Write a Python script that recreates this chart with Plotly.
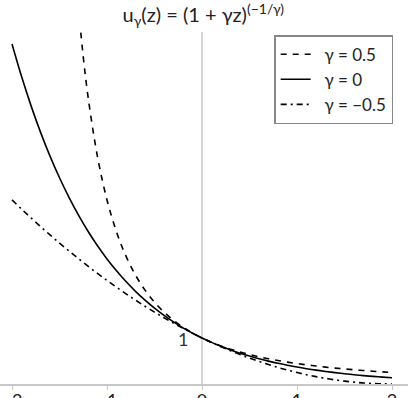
import plotly.graph_objects as go

z_vals = [-2.0, -1.9, -1.8, -1.7, -1.6, -1.5, -1.4, -1.3, -1.2, -1.1, -1.0,
          -0.9, -0.8, -0.7, -0.6, -0.5, -0.4, -0.3, -0.2, -0.1, 0.0,
          0.1, 0.2, 0.3, 0.4, 0.5, 0.6, 0.7, 0.8, 0.9, 1.0,
          1.1, 1.2, 1.3, 1.4, 1.5, 1.6, 1.7, 1.8, 1.9, 2.0]

u_gamma0 = [7.389, 6.686, 6.050, 5.474, 4.953, 4.482, 4.055, 3.669, 3.320, 3.004, 2.718,
            2.460, 2.226, 2.014, 1.822, 1.649, 1.492, 1.350, 1.221, 1.105, 1.000,
            0.905, 0.819, 0.741, 0.670, 0.607, 0.549, 0.497, 0.449, 0.407, 0.368,
            0.333, 0.301, 0.273, 0.247, 0.223, 0.202, 0.183, 0.165, 0.150, 0.135]

u_gamma_neg = [4.000, 3.803, 3.610, 3.423, 3.240, 3.063, 2.890, 2.723, 2.560, 2.403, 2.250,
               2.103, 1.960, 1.823, 1.690, 1.563, 1.440, 1.323, 1.210, 1.103, 1.000,
               0.903, 0.810, 0.723, 0.640, 0.563, 0.490, 0.423, 0.360, 0.303, 0.250,
               0.203, 0.160, 0.123, 0.090, 0.063, 0.040, 0.023, 0.010, 0.003, 0.000]

z_pos = [-1.3, -1.25, -1.2, -1.1, -1.0, -0.9, -0.8, -0.7, -0.6, -0.5, -0.4, -0.3, -0.2, -0.1, 0.0,
         0.1, 0.2, 0.3, 0.4, 0.5, 0.6, 0.7, 0.8, 0.9, 1.0,
         1.1, 1.2, 1.3, 1.4, 1.5, 1.6, 1.7, 1.8, 1.9, 2.0]
u_gamma_pos = [8.163, 7.111, 6.250, 4.938, 4.000, 3.306, 2.778, 2.367, 2.041, 1.778, 1.563, 1.384, 1.235, 1.108, 1.000,
               0.907, 0.826, 0.756, 0.694, 0.640, 0.592, 0.549, 0.510, 0.476, 0.444,
               0.416, 0.391, 0.367, 0.346, 0.327, 0.309, 0.292, 0.277, 0.263, 0.250]

tick_vals = [-2, -1, 0, 1, 2]
tick_text = ["\u22122", "\u22121", "0", "1", "2"]

FONT = "Lato"

fig = go.Figure()
fig.add_trace(go.Scatter(x=z_pos, y=u_gamma_pos, mode="lines", name="  \u03b3 = 0.5",
                         line=dict(color="black", width=1.6, dash="6px,6px", shape="spline")))
fig.add_trace(go.Scatter(x=z_vals, y=u_gamma0, mode="lines", name="  \u03b3 = 0",
                         line=dict(color="black", width=1.6, shape="spline")))
fig.add_trace(go.Scatter(x=z_vals, y=u_gamma_neg, mode="lines", name="  \u03b3 = \u22120.5",
                         line=dict(color="black", width=1.6, dash="6px,4px,2px,4px", shape="spline")))

fig.add_shape(type="line", xref="x", yref="paper", x0=0, x1=0, y0=0, y1=1,
              line=dict(color="#c8c8c8", width=1.5), layer="below")

fig.add_annotation(x=-0.2, y=0.98, xref="x", yref="y", text="1", showarrow=False,
                   font=dict(family=FONT, size=18, color="#333"))

fig.update_layout(
    width=415, height=398,
    margin=dict(l=0, r=7, t=32, b=14),
    plot_bgcolor="white", paper_bgcolor="white",
    font=dict(family=FONT, size=17, color="#222"),
    title=dict(text="u<sub>\u03b3</sub>(z) = (1 + \u03b3z)<sup>(\u22121/\u03b3)</sup>",
               x=0.49, xanchor="center", y=0.962, yanchor="middle", yref="container",
               font=dict(family=FONT, size=20, color="#222")),
    showlegend=True,
    legend=dict(x=0.672, y=0.991, xanchor="left", yanchor="top",
                bgcolor="white", bordercolor="#888", borderwidth=1.5,
                font=dict(family=FONT, size=17, color="#222"),
                tracegroupgap=0),
    xaxis=dict(range=[-2.1263, 2.1684], tickvals=tick_vals, ticktext=tick_text,
               showgrid=False, zeroline=False, showline=True, linecolor="#c8c8c8", linewidth=1.5,
               ticks="outside", ticklen=4, tickcolor="#c8c8c8", automargin=False,
               ticklabelstandoff=-4,
               tickfont=dict(family=FONT, size=18, color="#222")),
    yaxis=dict(range=[0, 7.65], showgrid=False, zeroline=False, showline=False,
               showticklabels=False, ticks="", automargin=False),
)

fig.write_html("out.html")
